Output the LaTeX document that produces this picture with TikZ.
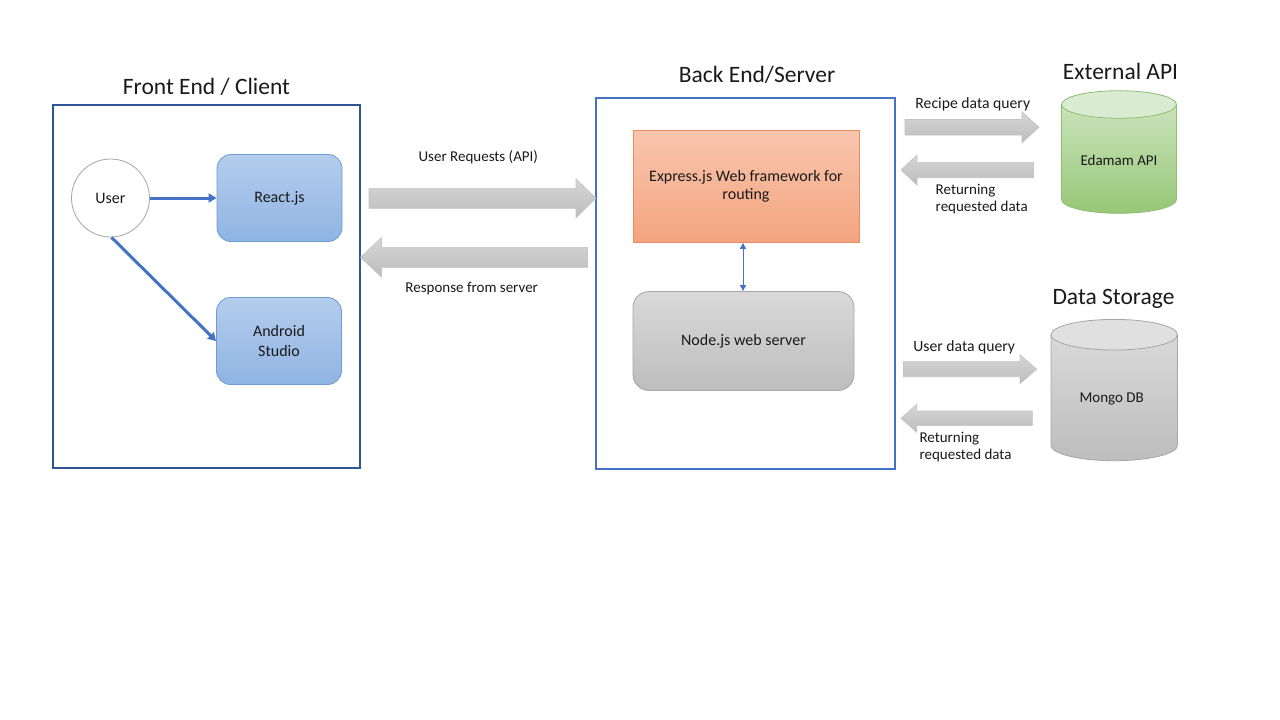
\documentclass[tikz,border=0pt]{standalone}
\usepackage{fontspec}
\setmainfont{Carlito}
\usetikzlibrary{arrows.meta}
\definecolor{framedark}{HTML}{2F5597}
\definecolor{frameblue}{HTML}{4472C4}
\definecolor{linkblue}{HTML}{4472C4}
\definecolor{blueTop}{HTML}{B4CDEC}
\definecolor{blueBot}{HTML}{8FB4E3}
\definecolor{blueLine}{HTML}{6F9AD4}
\definecolor{orTop}{HTML}{F8C6AE}
\definecolor{orBot}{HTML}{F4A47F}
\definecolor{orLine}{HTML}{EB8C5E}
\definecolor{gyTop}{HTML}{D9D9D9}
\definecolor{gyBot}{HTML}{BDBDBD}
\definecolor{gyLine}{HTML}{A6A6A6}
\definecolor{arTop}{HTML}{D6D6D6}
\definecolor{arBot}{HTML}{BCBCBC}
\definecolor{arLine}{HTML}{C4C4C4}
\definecolor{grTop}{HTML}{C9E3BA}
\definecolor{grBot}{HTML}{97C777}
\definecolor{grCap}{HTML}{D9EBD0}
\definecolor{grLine}{HTML}{8DBE70}
\definecolor{mgCap}{HTML}{E0E0E0}
\definecolor{txt}{HTML}{1A1A1A}
\newcommand{\blockR}[6]{\path[garrow] (#1,{#3-#4}) -- ({#2-#6},{#3-#4}) -- ({#2-#6},{#3-#5}) -- (#2,#3) -- ({#2-#6},{#3+#5}) -- ({#2-#6},{#3+#4}) -- (#1,{#3+#4}) -- cycle;}
\newcommand{\blockL}[6]{\path[garrow] (#1,{#3-#4}) -- ({#2+#6},{#3-#4}) -- ({#2+#6},{#3-#5}) -- (#2,#3) -- ({#2+#6},{#3+#5}) -- ({#2+#6},{#3+#4}) -- (#1,{#3+#4}) -- cycle;}
\begin{document}
\begin{tikzpicture}[x=1pt,y=-1pt,
  lbl/.style={font=\fontsize{15}{17}\selectfont, text=txt, inner sep=0pt},
  lblb/.style={font=\fontsize{15.7}{18}\selectfont, text=txt, inner sep=0pt},
  cyl/.style={font=\fontsize{15}{18}\selectfont, text=txt, inner sep=0pt},
  ttl/.style={font=\fontsize{23.5}{27}\selectfont, text=txt, inner sep=0pt},
  frame/.style={draw, line width=2pt},
  boxfont/.style={font=\fontsize{16}{19.3}\selectfont, text=txt, align=center},
  bluebox/.style={draw=blueLine, line width=0.8pt, rounded corners=14pt, top color=blueTop, bottom color=blueBot, boxfont, minimum width=125pt, minimum height=87pt, inner sep=0pt},
  garrow/.style={draw=arLine, line width=0.6pt, top color=arTop, bottom color=arBot},
  link/.style={draw=linkblue, line width=3pt, -{Triangle[length=8pt,width=9pt]}},
  thinlink/.style={draw=linkblue, line width=1pt, {Triangle[length=6pt,width=6pt]}-{Triangle[length=6pt,width=6pt]}}
]
\useasboundingbox (0,0) rectangle (1280,720);
\fill[white] (0,0) rectangle (1280,720);

% Front end
\node[frame, draw=framedark, minimum width=307pt, minimum height=363pt, inner sep=0pt] (front) at (206.5,286) {};
\node[ttl] (fronttitle) at (206.5,87) {Front End / Client};
\node[circle, draw=gyLine, line width=0.8pt, fill=white, minimum size=78pt, inner sep=0pt, boxfont] (user) at (110.5,198) {User};
\node[bluebox] (react) at (279.5,198) {React.js};
\node[bluebox] (android) at (279,341) {Android\\Studio};
\draw[link] (user.east) -- (react.west);
\draw[link] (user.south) ++(1,0) coordinate (us) (us) -- (android.west);

% Back end
\node[frame, draw=frameblue, minimum width=299pt, minimum height=371pt, inner sep=0pt] (back) at (745,283) {};
\node[ttl] (backtitle) at (757,75) {Back End/Server};
\node[draw=orLine, line width=0.8pt, top color=orTop, bottom color=orBot, minimum width=226pt, minimum height=112pt, inner sep=0pt, font=\fontsize{16}{18.5}\selectfont, text=txt, align=center] (express) at (746,186.5) {Express.js Web framework for\\routing};
\node[draw=gyLine, line width=0.8pt, rounded corners=16pt, top color=gyTop, bottom color=gyBot, minimum width=221pt, minimum height=99pt, inner sep=0pt, boxfont] (nodejs) at (743.5,341) {Node.js web server};
\draw[thinlink] (express.south -| 743,0) -- (nodejs.north -| 743,0);

% client <-> server block arrows
\blockR{369}{596}{198.3}{10}{19.5}{20}
\blockL{587.5}{360.5}{257.3}{10}{19.8}{21}
\node[lbl] (lreq) at (478.3,157.3) {User Requests (API)};
\node[lbl] (lresp) at (471.7,288.3) {Response from server};

% External API
\node[ttl] (exttitle) at (1120.5,71.5) {External API};
\path[draw=grLine, line width=0.8pt, top color=grTop, bottom color=grBot]
  (1061.5,104.5) -- (1061.5,199.5) .. controls (1061.5,207.12) and (1087.24,213.3) .. (1119,213.3)
  .. controls (1150.76,213.3) and (1176.5,207.12) .. (1176.5,199.5) -- (1176.5,104.5) -- cycle;
\path[draw=grLine, line width=0.8pt, fill=grCap] (1119,104.5) ellipse [x radius=57.5, y radius=13.8];
\node[cyl] (edamam) at (1119,160) {Edamam API};
\blockR{905}{1039}{127.3}{7.8}{15.5}{17}
\blockL{1033.5}{901}{170}{7.7}{15}{16}
\node[lblb] (lrecipe) at (972.8,104.5) {Recipe data query};
\node[lbl, align=left] (lret1) at (981.7,199.5) {Returning\\requested data};

% Data storage
\node[ttl] (dstitle) at (1113.5,298.5) {Data Storage};
\path[draw=gyLine, line width=0.8pt, top color=gyTop, bottom color=gyBot]
  (1051,334.7) -- (1051,445.4) .. controls (1051,453.85) and (1079.3,460.7) .. (1114.2,460.7)
  .. controls (1149.1,460.7) and (1177.4,453.85) .. (1177.4,445.4) -- (1177.4,334.7) -- cycle;
\path[draw=gyLine, line width=0.8pt, fill=mgCap] (1114.2,334.7) ellipse [x radius=63.2, y radius=15.3];
\node[cyl] (mongo) at (1111.7,399) {Mongo DB};
\blockR{903.3}{1036.7}{369.2}{7.5}{14.5}{16.7}
\blockL{1032.3}{901}{418.3}{7.3}{14}{15.7}
\node[lblb] (luser) at (964.2,347.5) {User data query};
\node[lbl, align=left] (lret2) at (965.5,447) {Returning\\requested data};
\end{tikzpicture}
\end{document}
